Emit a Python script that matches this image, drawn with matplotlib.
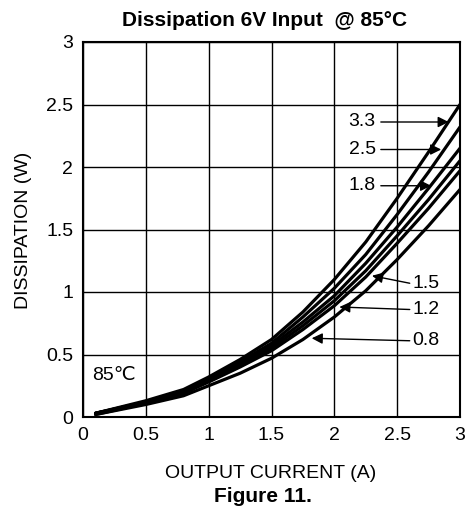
import numpy as np
import matplotlib.pyplot as plt

plt.rcParams['font.family'] = ['Liberation Sans', 'DejaVu Sans']

# output current (A)
current = [0.1, 0.5, 0.8, 1.0, 1.25, 1.5, 1.75, 2.0, 2.25, 2.5, 2.75, 3.0]

# dissipation (W) per output voltage
vout_labels = ['3.3', '2.5', '1.8', '1.5', '1.2', '0.8']
diss_33 = [0.03, 0.13, 0.22, 0.32, 0.46, 0.62, 0.84, 1.10, 1.40, 1.75, 2.12, 2.50]
diss_25 = [0.03, 0.12, 0.21, 0.31, 0.44, 0.59, 0.80, 1.03, 1.30, 1.62, 1.96, 2.32]
diss_18 = [0.03, 0.12, 0.20, 0.30, 0.42, 0.57, 0.76, 0.97, 1.23, 1.52, 1.83, 2.15]
diss_15 = [0.03, 0.11, 0.19, 0.29, 0.41, 0.55, 0.73, 0.93, 1.17, 1.45, 1.74, 2.05]
diss_12 = [0.02, 0.11, 0.19, 0.28, 0.40, 0.53, 0.70, 0.89, 1.12, 1.39, 1.67, 1.97]
diss_08 = [0.02, 0.10, 0.17, 0.25, 0.35, 0.47, 0.62, 0.80, 1.01, 1.26, 1.53, 1.82]
series = [diss_33, diss_25, diss_18, diss_15, diss_12, diss_08]

# annotations: arrow tail and tip (data coords); text sits at the tail
tail_xy = [(2.37, 2.36), (2.37, 2.14), (2.37, 1.85), (2.60, 1.07), (2.60, 0.86), (2.60, 0.61)]
tip_xy = [(2.91, 2.36), (2.85, 2.14), (2.77, 1.85), (2.30, 1.13), (2.04, 0.88), (1.82, 0.63)]

W, H = 466, 508
fig = plt.figure(figsize=(W / 100, H / 100), dpi=100)
ax = fig.add_axes([83 / W, 1 - 417 / H, 377 / W, 375 / H])

for d in series:
    ax.plot(current, d, color='black', lw=2.3, solid_capstyle='round')

for lab, (lx, ly), (tx, ty) in zip(vout_labels, tail_xy, tip_xy):
    ax.annotate('', xy=(tx, ty), xytext=(lx, ly),
                arrowprops=dict(arrowstyle='-|>', color='black', lw=1.0,
                                mutation_scale=16, shrinkA=0, shrinkB=0))
    if lx < tx:
        ax.text(lx - 0.04, ly, lab, ha='right', va='center', fontsize=14)
    else:
        ax.text(lx + 0.02, ly, lab, ha='left', va='center', fontsize=14)

ax.text(0.07, 0.33, '85℃', fontsize=14, ha='left', va='center')

ax.set_xlim(0, 3)
ax.set_ylim(0, 3)
ax.set_xticks(np.arange(0, 3.01, 0.5))
ax.set_yticks(np.arange(0, 3.01, 0.5))
ax.set_xticklabels(['0', '0.5', '1', '1.5', '2', '2.5', '3'])
ax.set_yticklabels(['0', '0.5', '1', '1.5', '2', '2.5', '3'])
ax.tick_params(length=0, labelsize=14, pad=7)
ax.grid(True, color='black', lw=1.0)
for s in ax.spines.values():
    s.set_linewidth(1.5)

fig.text(265 / W, 1 - 20 / H, 'Dissipation 6V Input  @ 85°C', ha='center', va='center',
         fontsize=15, fontweight='bold')
fig.text(24 / W, 1 - 230 / H, 'DISSIPATION (W)', ha='center', va='center',
         rotation=90, fontsize=14)
fig.text(271 / W, 1 - 474 / H, 'OUTPUT CURRENT (A)', ha='center', va='center', fontsize=14)
fig.text(263 / W, 1 - 497 / H, 'Figure 11.', ha='center', va='center',
         fontsize=15, fontweight='bold')

fig.savefig('out.png', dpi=100)
